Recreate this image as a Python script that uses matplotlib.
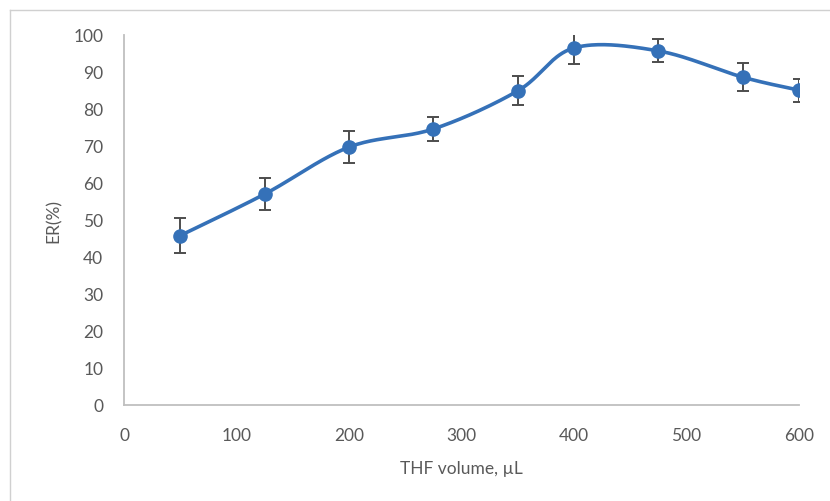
import numpy as np
import matplotlib
matplotlib.use("Agg")
import matplotlib.pyplot as plt
from matplotlib.lines import Line2D

# Data
volume = [50, 125, 200, 275, 350, 400, 475, 550, 600]
er = [45.8, 57.0, 69.7, 74.6, 84.9, 96.5, 95.7, 88.6, 85.1]
err = [4.7, 4.4, 4.3, 3.2, 3.9, 4.3, 3.1, 3.8, 3.1]
x_ticks = [0, 100, 200, 300, 400, 500, 600]
y_ticks = [0, 10, 20, 30, 40, 50, 60, 70, 80, 90, 100]

plt.rcParams['font.family'] = ['Lato', 'DejaVu Sans']

def smooth(xs, ys, n=40):
    xs = np.asarray(xs, float); ys = np.asarray(ys, float)
    pts = np.column_stack([xs, ys])
    out = []
    N = len(pts)
    for i in range(N - 1):
        p0 = pts[i - 1] if i > 0 else pts[i]
        p1 = pts[i]
        p2 = pts[i + 1]
        p3 = pts[i + 2] if i + 2 < N else pts[i + 1]
        c1 = p1 + (p2 - p0) / 6.0
        c2 = p2 - (p3 - p1) / 6.0
        t = np.linspace(0, 1, n)[:, None]
        seg = ((1 - t) ** 3) * p1 + 3 * ((1 - t) ** 2) * t * c1 + 3 * (1 - t) * t ** 2 * c2 + t ** 3 * p2
        out.append(seg if i == 0 else seg[1:])
    s = np.vstack(out)
    return s[:, 0], s[:, 1]

fig = plt.figure(figsize=(8.30, 5.02), dpi=100)
ax = fig.add_axes([124 / 830, 1 - 406 / 502, (799 - 124) / 830, (406 - 36) / 502])

blue = '#3571B8'
sx, sy = smooth(volume, er)
ax.plot(sx, sy, color=blue, lw=2.6, solid_capstyle='round', zorder=2)
ax.errorbar(volume, er, yerr=err, fmt='none', ecolor='#4D4D4D', elinewidth=1.4,
            capsize=4.2, capthick=1.4, zorder=3)
ax.plot(volume, er, 'o', color=blue, ms=9.5, zorder=4, mec=blue)

ax.set_xlim(0, 600)
ax.set_ylim(0, 100)
ax.set_xticks(x_ticks)
ax.set_yticks(y_ticks)
ax.tick_params(length=0, labelsize=12.5, colors='#595959')
ax.tick_params(axis='x', pad=16)
ax.tick_params(axis='y', pad=15)
for s in ['top', 'right']:
    ax.spines[s].set_visible(False)
for s in ['left', 'bottom']:
    ax.spines[s].set_color('#BFBFBF')
    ax.spines[s].set_linewidth(1.3)
ax.set_xlabel('THF volume, µL', fontsize=12.5, color='#595959', labelpad=12)
ax.set_ylabel('ER(%)', fontsize=12.5, color='#595959', labelpad=8)

# outer chart border (partially visible)
fig.add_artist(Line2D([9.5 / 830, 9.5 / 830], [0, 1 - 11 / 502], transform=fig.transFigure,
                      color='#D0D0D0', lw=1.0))
fig.add_artist(Line2D([9.5 / 830, 1], [1 - 11 / 502, 1 - 11 / 502], transform=fig.transFigure,
                      color='#D0D0D0', lw=1.0))

fig.savefig('out.png', dpi=100)
